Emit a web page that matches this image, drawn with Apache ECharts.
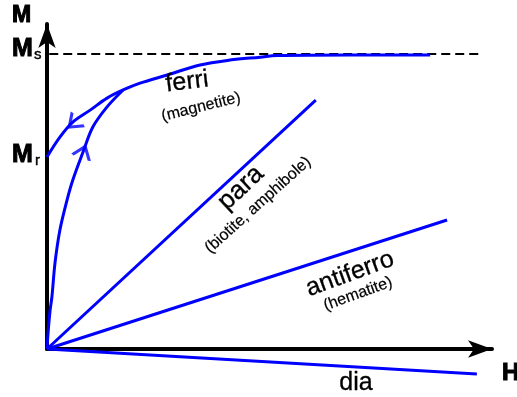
<!DOCTYPE html>
<html>
<head>
<meta charset="utf-8">
<title>Magnetization curves</title>
<script src="https://cdn.jsdelivr.net/npm/echarts@6/dist/echarts.min.js"></script>
<style>
  html, body { margin: 0; padding: 0; background: #fff; }
  #chart { width: 517px; height: 397px; }
</style>
</head>
<body>
<div id="chart"></div>
<script>
// Field H (x) and magnetization M (y), arbitrary units
var saturationM = 9.08;          // Ms
var dashedLineX = [0.05, 9.8];

// ferrimagnet: descending branch from saturation down to remanence Mr
var ferriUpper = [
  [0.0, 5.91], [0.29, 6.52], [0.58, 6.98], [0.97, 7.35], [1.35, 7.72],
  [1.71, 7.97], [2.09, 8.18], [2.70, 8.43], [3.44, 8.74], [4.11, 8.89],
  [4.79, 8.98], [5.17, 9.03], [6.81, 9.05], [8.61, 9.05]
];
// ferrimagnet: initial (virgin) magnetization curve
var ferriVirgin = [
  [0.0, 0.0], [0.03, 0.6], [0.07, 1.2], [0.11, 1.60], [0.18, 2.65],
  [0.29, 3.66], [0.45, 4.58], [0.58, 5.20], [0.81, 6.06], [1.03, 6.83],
  [1.35, 7.45], [1.71, 7.97]
];
// linear responses
var paraLine = [[0, 0], [6.04, 7.66]];
var antiferroLine = [[0, 0], [8.99, 3.97]];
var diaLine = [[0, 0], [9.66, -0.77]];

// direction markers on the hysteresis branches
var arrowPoints = [[0.6, 6.95], [0.81, 6.06]];
var arrowAngles = [132, -21];

var BLUE = '#0000ff';
var FONT = '"Liberation Sans", Arial, Helvetica, sans-serif';

var chart = echarts.init(document.getElementById('chart'), null, { renderer: 'canvas' });

function axis() {
  return {
    type: 'value', min: 0, max: 10,
    axisLine: {
      show: true,
      symbol: ['none', 'arrow'],
      symbolSize: [13, 24],
      lineStyle: { color: '#000', width: 4 }
    },
    axisTick: { show: false },
    axisLabel: { show: false },
    splitLine: { show: false }
  };
}

function lineSeries(data, extra) {
  return Object.assign({
    type: 'line', data: data, showSymbol: false, symbol: 'none',
    clip: false, silent: true,
    lineStyle: { color: BLUE, width: 3 }
  }, extra || {});
}

function txt(text, x, y, size, opts) {
  opts = opts || {};
  return {
    type: 'text', x: x, y: y, rotation: opts.rot || 0, z: 10,
    style: {
      text: text,
      font: (opts.bold ? 'bold ' : '') + size + 'px ' + FONT,
      fill: '#000',
      stroke: opts.heavy ? '#000' : null,
      lineWidth: opts.heavy || 0,
      align: opts.align || 'center',
      verticalAlign: 'middle'
    }
  };
}

var option = {
  animation: false,
  backgroundColor: '#fff',
  grid: { left: 47, right: 25, top: 24, bottom: 48 },
  xAxis: axis(),
  yAxis: axis(),
  series: [
    lineSeries(dashedLineX.map(function (x) { return [x, saturationM]; }), {
      lineStyle: { color: '#000', width: 2, type: [9, 5] }, z: 1
    }),
    lineSeries(ferriUpper, { smooth: 0.35 }),
    lineSeries(ferriVirgin, { smooth: 0.35 }),
    lineSeries(paraLine),
    lineSeries(antiferroLine),
    lineSeries(diaLine),
    {
      type: 'scatter', silent: true, clip: false,
      data: arrowPoints.map(function (p, i) {
        return { value: p, symbolRotate: arrowAngles[i] };
      }),
      symbol: 'path://M0,10 L6,0 L12,10',
      symbolSize: [18, 12],
      itemStyle: { color: 'none', borderColor: BLUE, borderWidth: 2.8 }
    }
  ],
  graphic: [
    txt('M', 12, 16, 23, { bold: true, align: 'left', heavy: 1 }),
    txt('M', 12, 49, 25, { bold: true, align: 'left', heavy: 1 }),
    txt('s', 34, 55, 15, { align: 'left', heavy: 0.4 }),
    txt('M', 12, 155, 25, { bold: true, align: 'left', heavy: 1 }),
    txt('r', 35, 161, 15, { align: 'left', heavy: 0.4 }),
    txt('H', 502, 373, 24, { bold: true, align: 'left', heavy: 1 }),
    txt('ferri', 187, 82, 25, { rot: 0.12, heavy: 0.3 }),
    txt('(magnetite)', 201, 107, 16, { rot: 0.24, heavy: 0.2 }),
    txt('para', 241, 188, 26, { rot: 0.75, heavy: 0.3 }),
    txt('(biotite, amphibole)', 258, 205, 16, { rot: 0.73, heavy: 0.2 }),
    txt('antiferro', 350, 274, 25, { rot: 0.35, heavy: 0.3 }),
    txt('(hematite)', 358, 294, 16, { rot: 0.35, heavy: 0.2 }),
    txt('dia', 356, 383, 25, { heavy: 0.3 })
  ]
};

chart.setOption(option);
</script>
</body>
</html>
